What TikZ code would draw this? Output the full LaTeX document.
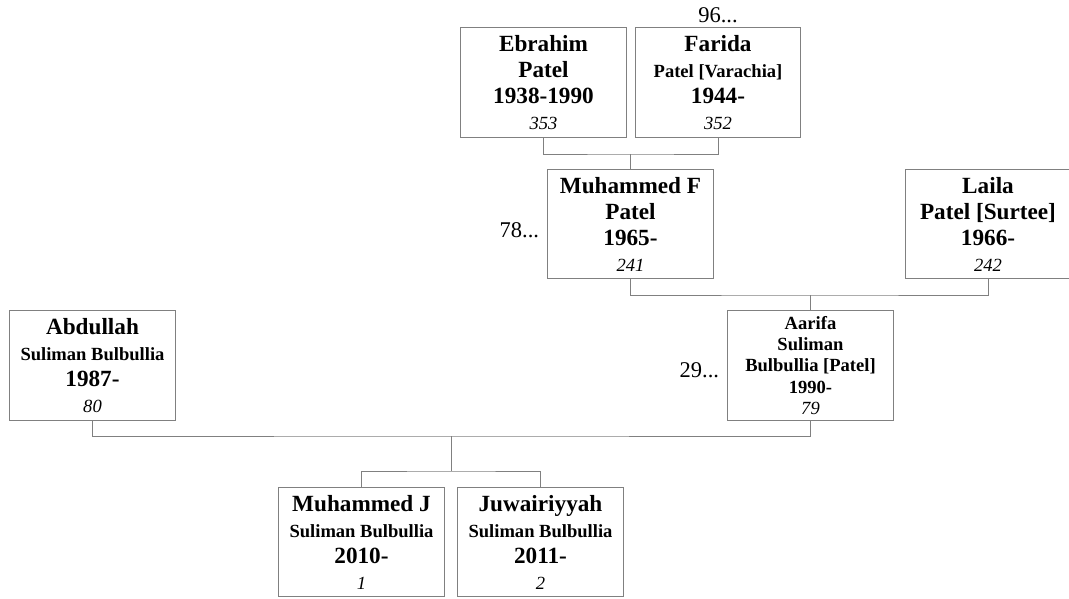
\documentclass[tikz,border=0pt]{standalone}
\usepackage{fontspec}
\setmainfont{Liberation Serif}
\usetikzlibrary{positioning}
\definecolor{linegray}{RGB}{128,128,128}
\newcommand{\bigname}[1]{{\fontsize{16.5}{18.5}\selectfont\bfseries #1}}
\newcommand{\subname}[1]{{\fontsize{13.2}{15}\selectfont\bfseries #1}}
\newcommand{\refno}[1]{{\fontsize{13.2}{15}\selectfont\itshape #1}}

\begin{document}
\begin{tikzpicture}[x=0.025cm ,y=-0.025cm ,
line width=0.7pt ,
person/.style ={ rectangle , draw=linegray , minimum width =4.125cm ,
minimum height =2.725cm , inner sep =0pt , align=center ,
font=\fontsize{13.2}{18.5}\selectfont},
tight/.style={person , font=\fontsize{13.2}{15}\selectfont},
more/.style={font=\fontsize{16}{18}\selectfont},
link/.style={draw=linegray}
]
    \useasboundingbox (0,0) rectangle (1069,598);
    \node[person] (ebrahim) at (543.5,82.5) {\bigname{Ebrahim}\\\bigname{Patel}\\\bigname{1938-1990}\\\refno{353}};
    \node[person] (farida) at (718,82.5) {\bigname{Farida}\\\subname{Patel [Varachia]}\\\bigname{1944-}\\\refno{352}};
    \node[person] (muhammedF) at (630.5,224) {\bigname{Muhammed F}\\\bigname{Patel}\\\bigname{1965-}\\\refno{241}};
    \node[person] (laila) at (988,224) {\bigname{Laila}\\\bigname{Patel [Surtee]}\\\bigname{1966-}\\\refno{242}};
    \node[person] (abdullah) at (92.5,365.5) {\bigname{Abdullah}\\\subname{Suliman Bulbullia}\\\bigname{1987-}\\\refno{80}};
    \node[tight] (aarifa) at (810.5,365.5) {\subname{Aarifa}\\\subname{Suliman}\\\subname{Bulbullia [Patel]}\\\subname{1990-}\\\refno{79}};
    \node[person] (muhammedJ) at (361.5,542) {\bigname{Muhammed J}\\\subname{Suliman Bulbullia}\\\bigname{2010-}\\\refno{1}};
    \node[person] (juwairiyyah) at (540.5,542) {\bigname{Juwairiyyah}\\\subname{Suliman Bulbullia}\\\bigname{2011-}\\\refno{2}};
    \node[more] (moreF) [above = -0.02cm of farida] {96...};
    \node[more] (moreM) [left = 0.08cm of muhammedF, yshift=-0.15cm] {78...};
    \node[more] (moreA) [left = 0.08cm of aarifa, yshift=-0.12cm] {29...};
    \coordinate (b1) at (630.5,154);
    \coordinate (b2) at (810.5,295);
    \coordinate (b3) at (451.5,436);
    \coordinate (b4) at (451.5,471);
    \draw[link] (ebrahim.south) |- (b1) -| (farida.south);
    \draw[link] (b1) -- (muhammedF.north);
    \draw[link] (muhammedF.south) |- (b2) -| (laila.south);
    \draw[link] (b2) -- (aarifa.north);
    \draw[link] (abdullah.south) |- (b3) -| (aarifa.south);
    \draw[link] (b3) -- (b4);
    \draw[link] (muhammedJ.north) |- (b4) -| (juwairiyyah.north);
    \end{tikzpicture}
\end{document}
